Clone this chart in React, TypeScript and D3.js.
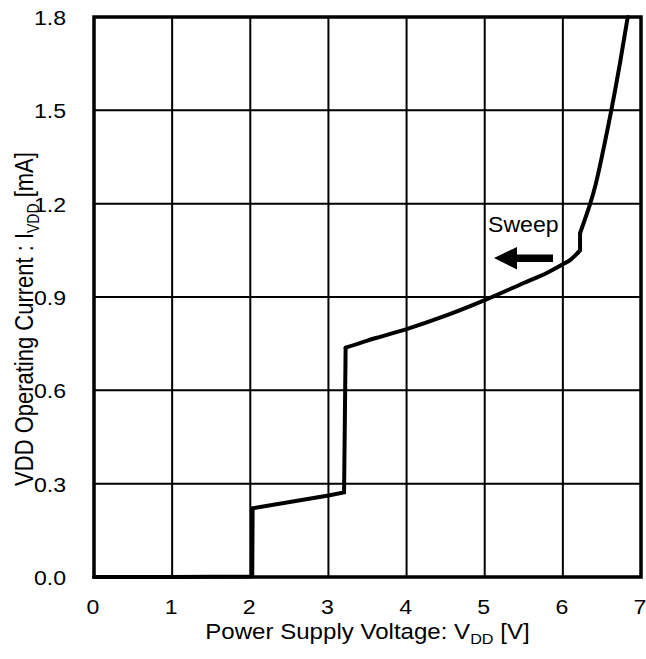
import React from "react";
import * as d3 from "d3";

const voltage = [0, 1.0, 2.0, 2.025, 2.03, 3.0, 3.2, 3.21, 3.22, 3.5, 3.66, 4.0, 4.5, 5.0, 5.5, 5.8, 6.0, 6.1, 6.19, 6.22, 6.22, 6.28, 6.35, 6.42, 6.49, 6.56, 6.62, 6.73, 6.83];
const current = [0, 0, 0.002, 0.004, 0.221, 0.262, 0.272, 0.5, 0.737, 0.760, 0.772, 0.797, 0.840, 0.890, 0.945, 0.978, 1.005, 1.02, 1.042, 1.05, 1.105, 1.148, 1.2, 1.262, 1.34, 1.425, 1.5, 1.65, 1.8];
const xTicks = [0, 1, 2, 3, 4, 5, 6, 7];
const yTicks = [0, 0.3, 0.6, 0.9, 1.2, 1.5, 1.8];

const W = 646, H = 659;
const L = 94, R = 641, T = 17, B = 577;
const FONT = "Liberation Sans, Arial, sans-serif";

export default function App() {
  const x = d3.scaleLinear().domain([0, 7]).range([L, R]);
  const y = d3.scaleLinear().domain([0, 1.8]).range([B, T]);
  const pts = voltage.map((v, i) => [v, current[i]] as [number, number]);
  const lin = d3.line<[number, number]>().x(d => x(d[0])).y(d => y(d[1]));
  const smooth = d3.line<[number, number]>().x(d => x(d[0])).y(d => y(d[1])).curve(d3.curveMonotoneX);
  const parts = [
    lin(pts.slice(0, 9)),
    smooth(pts.slice(8, 19)),
    lin(pts.slice(18, 21)),
    smooth(pts.slice(20)),
  ];
  const arrow = `M${494} ${258} L${517} ${247} L${517} ${254.5} L${553} ${254.5} L${553} ${262} L${517} ${262} L${517} ${269.5} Z`;
  return (
    <svg width={W} height={H} style={{ position: "absolute", left: 0, top: 0, background: "#fff" }} fontFamily={FONT}>
      <rect x={0} y={0} width={W} height={H} fill="#fff" />
      {xTicks.slice(1, -1).map(t => (
        <line key={"gx" + t} x1={x(t)} x2={x(t)} y1={T} y2={B} stroke="#000" strokeWidth={2} />
      ))}
      {yTicks.slice(1, -1).map(t => (
        <line key={"gy" + t} x1={L} x2={R} y1={y(t)} y2={y(t)} stroke="#000" strokeWidth={2} />
      ))}
      <rect x={L} y={T} width={R - L} height={B - T} fill="none" stroke="#000" strokeWidth={3.5} />
      {parts.map((d, i) => (
        <path key={"c" + i} d={d || ""} fill="none" stroke="#000" strokeWidth={4} strokeLinecap="round" strokeLinejoin="miter" />
      ))}
      {yTicks.map(t => (
        <text key={"ty" + t} transform={`translate(66,${y(t) + 8}) scale(1.1,1)`} textAnchor="end" fontSize={21}>
          {t.toFixed(1)}
        </text>
      ))}
      {xTicks.map(t => (
        <text key={"tx" + t} transform={`translate(${x(t) - 1},614) scale(1.1,1)`} textAnchor="middle" fontSize={21}>
          {t}
        </text>
      ))}
      <text transform={`translate(${(L + R) / 2 + 0},639) scale(1.12,1)`} textAnchor="middle" fontSize={21.5}>
        Power Supply Voltage: V<tspan fontSize={14.5} dy={5}>DD</tspan><tspan dy={-5}> [V]</tspan>
      </text>
      <text transform={`translate(33,${(T + B) / 2 + 22}) scale(1.2,1) rotate(-90)`} textAnchor="middle" fontSize={22}>
        VDD Operating Current : I<tspan fontSize={14} dy={5}>VDD</tspan><tspan dy={-5}> [mA]</tspan>
      </text>
      <text transform="translate(488,232) scale(1.05,1)" fontSize={22}>Sweep</text>
      <path d={arrow} fill="#000" />
    </svg>
  );
}
